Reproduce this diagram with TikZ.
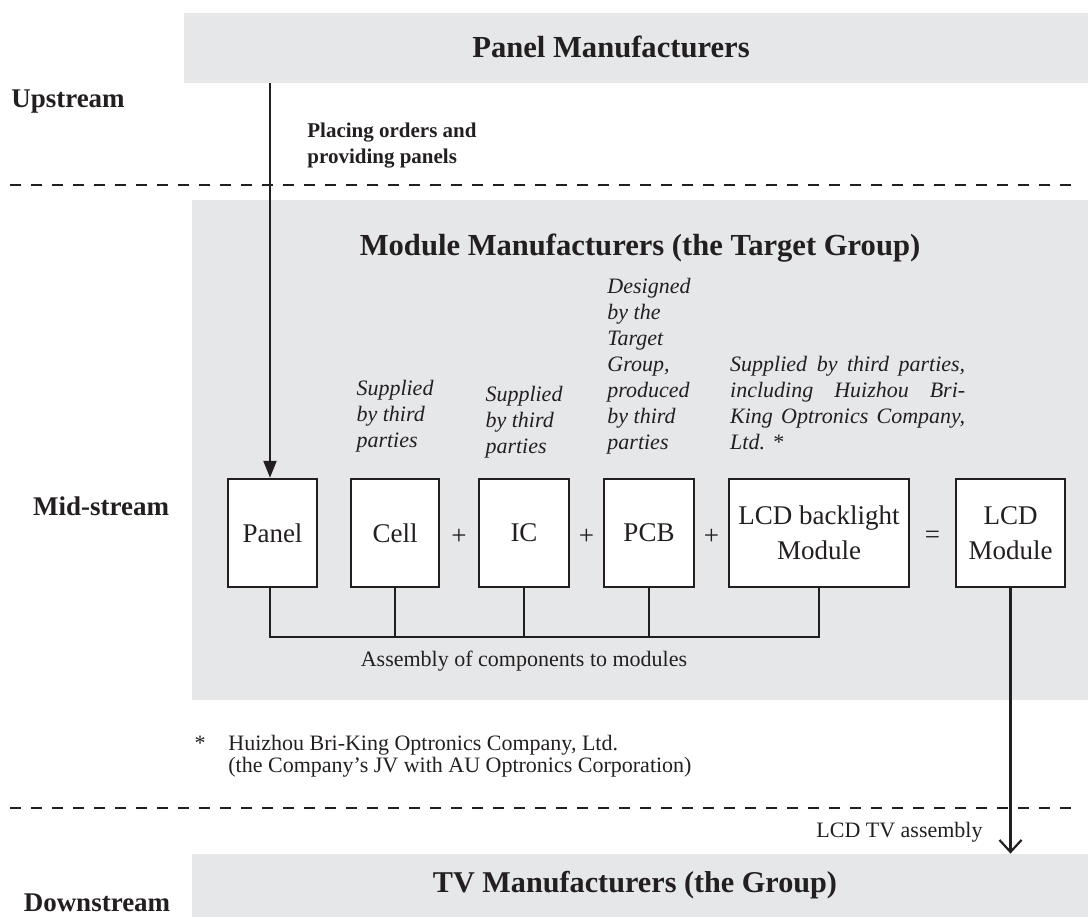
\documentclass[tikz,border=0pt]{standalone}
\usepackage{fontspec}
\setmainfont{Liberation Serif}
\usetikzlibrary{arrows.meta, positioning, calc}
\definecolor{bandgray}{HTML}{E6E7E9}
\definecolor{ink}{HTML}{231F20}
\tikzstyle{band} = [fill=bandgray, inner sep=0pt, text=ink, font=\fontsize{15.3}{18}\selectfont\bfseries]
\tikzstyle{stage} = [inner sep=0pt, text=ink, font=\fontsize{13.5}{16}\selectfont\bfseries]
\tikzstyle{part} = [rectangle, draw=ink, line width=1.2pt, fill=white, minimum height=54pt, align=center, inner sep=0pt, text=ink, font=\fontsize{13.5}{17.5}\selectfont]
\tikzstyle{note} = [align=left, inner sep=0pt, text=ink, font=\fontsize{11}{13}\selectfont\itshape]
\tikzstyle{smalltext} = [inner sep=0pt, text=ink, font=\fontsize{11}{11}\selectfont]
\tikzstyle{wire} = [draw=ink, line width=1.1pt]
\tikzstyle{divider} = [draw=ink, line width=1.1pt, dash pattern=on 5.5pt off 5pt]

\begin{document}
\begin{tikzpicture}[x=0.5pt, y=-0.5pt]
\useasboundingbox (0,0) rectangle (1088,917);
% bands
\node (upband) [band, minimum width=452pt, minimum height=35pt] at (636,48) {};
\node (uptitle) [band, fill=none] at (611,47) {Panel Manufacturers};
\node (midband) [band, minimum width=448pt, minimum height=250pt] at (640,450) {};
\node (downband) [band, minimum width=448pt, minimum height=31.5pt] at (640,885.5) {};
\node (downtitle) [band, fill=none, font=\fontsize{15.1}{18}\selectfont\bfseries] at (635,885) {TV Manufacturers (the Group)};
\node (midtitle) [band, fill=none] at (640,248) {Module Manufacturers (the Target Group)};
% stages
\node (up) [stage, anchor=base] at (68,107) {Upstream};
\node (mid) [stage, anchor=base] at (101,515) {Mid-stream};
\node (down) [stage, anchor=base] at (97,911) {Downstream};
\coordinate (divL1) at (10,185);
\coordinate (divR1) at (1080,185);
\coordinate (divL2) at (10,808);
\coordinate (divR2) at (1080,808);
\draw [divider] (divL1) -- (divR1);
\draw [divider] (divL2) -- (divR2);
% components
\node (panel) [part, minimum width=44.5pt] at (272.5,533) {Panel};
\node (cell) [part, minimum width=44pt, right=15.8pt of panel] {Cell};
\node (ic) [part, minimum width=45pt, right=18.8pt of cell] {IC};
\node (pcb) [part, minimum width=45pt, right=16.3pt of ic] {PCB};
\node (backlight) [part, minimum width=90pt, right=16.3pt of pcb] {LCD backlight\\Module};
\node (lcdmod) [part, minimum width=54.5pt, right=22.3pt of backlight] {LCD\\Module};
\node (plus1) [part, draw=none, fill=none, minimum height=0pt] at ($(cell.east)!0.5!(ic.west)+(0,4)$) {+};
\node (plus2) [part, draw=none, fill=none, minimum height=0pt] at ($(ic.east)!0.5!(pcb.west)+(0,4)$) {+};
\node (plus3) [part, draw=none, fill=none, minimum height=0pt] at ($(pcb.east)!0.5!(backlight.west)+(0,4)$) {+};
\node (equals) [part, draw=none, fill=none, minimum height=0pt] at ($(backlight.east)!0.5!(lcdmod.west)+(0,4)$) {=};
% sources
\node (cellnote) [note, above=12.5pt of cell] {Supplied\\by third\\parties};
\node (icnote) [note, above=9.5pt of ic] {Supplied\\by third\\parties};
\node (pcbnote) [note, above=11.5pt of pcb] {Designed\\by the\\Target\\Group,\\produced\\by third\\parties};
\node (blnote) [note, above right=14pt and 1pt of backlight.north west] {\makebox[117.5pt][s]{Supplied by third parties,}\\\makebox[117.5pt][s]{including Huizhou Bri-}\\\makebox[117.5pt][s]{King Optronics Company,}\\Ltd. *};
% assembly
\coordinate (bus) at (270,637);
\draw [wire] ([xshift=-1.25pt]panel.south) |- (backlight.south |- bus) -- (backlight.south);
\foreach \n in {cell, ic, pcb}
  \draw [wire] (\n.south) -- (\n.south |- bus);
\node (asmtext) [smalltext] at (524,661) {Assembly of components to modules};
% flows
\draw [wire, -{Triangle[length=8.5pt, width=6.5pt]}] (upband.south -| 270,0) -- ([xshift=-1.25pt]panel.north);
\node (ordertext) [stage, align=left, anchor=west, font=\fontsize{10.5}{13}\selectfont\bfseries] at (307,146) {Placing orders and\\providing panels};
\draw [wire, -{Straight Barb[length=6pt, width=11pt]}] (lcdmod.south) -- (lcdmod.south |- downband.north);
\node (tvtext) [smalltext, anchor=east] at (983,832) {LCD TV assembly};
% footnote
\node (star) [smalltext, anchor=base] at (200,750) {*};
\node (foot) [smalltext, align=left, anchor=west] at (228,756) {Huizhou Bri-King Optronics Company, Ltd.\\(the Company's JV with AU Optronics Corporation)};
\end{tikzpicture}
\end{document}
